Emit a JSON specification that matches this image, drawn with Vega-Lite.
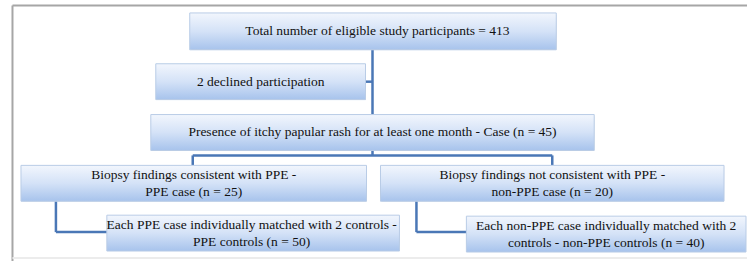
{
  "$schema": "https://vega.github.io/schema/vega-lite/v6.json",
  "width": 748,
  "height": 262,
  "padding": 0,
  "autosize": {"type": "fit", "contains": "padding"},
  "background": "white",
  "config": {"view": {"stroke": null}},
  "datasets": {
    "frame": [
      {"x1": 12.5, "y1": 5.5, "x2": 748, "y2": 5.5, "kind": "main"},
      {"x1": 12.5, "y1": 5.5, "x2": 12.5, "y2": 262, "kind": "main"},
      {"x1": 12.5, "y1": 259, "x2": 748, "y2": 259, "kind": "faint"}
    ],
    "links": [
      {"x1": 373, "y1": 50, "x2": 373, "y2": 115},
      {"x1": 366, "y1": 82, "x2": 373, "y2": 82},
      {"x1": 373, "y1": 151, "x2": 373, "y2": 156},
      {"x1": 193, "y1": 156, "x2": 553, "y2": 156},
      {"x1": 193, "y1": 156, "x2": 193, "y2": 166},
      {"x1": 553, "y1": 156, "x2": 553, "y2": 166},
      {"x1": 56, "y1": 202, "x2": 56, "y2": 233},
      {"x1": 56, "y1": 233, "x2": 107, "y2": 233},
      {"x1": 417, "y1": 202, "x2": 417, "y2": 233},
      {"x1": 417, "y1": 233, "x2": 467, "y2": 233}
    ],
    "boxes": [
      {"id": "total", "x1": 190, "x2": 557, "y1": 13, "y2": 50, "cx": 378, "cy": 31.5, "label": ["Total number of eligible study participants = 413"]},
      {"id": "declined", "x1": 156, "x2": 366, "y1": 64, "y2": 100, "cx": 261, "cy": 82, "label": ["2 declined participation"]},
      {"id": "case", "x1": 151, "x2": 595, "y1": 115, "y2": 151, "cx": 373, "cy": 133, "label": ["Presence of itchy papular rash for at least one month - Case (n = 45)"]},
      {"id": "ppe", "x1": 21, "x2": 367, "y1": 166, "y2": 202, "cx": 194, "cy": 176, "label": ["Biopsy findings consistent with PPE -", "PPE case (n = 25)"]},
      {"id": "nonppe", "x1": 381, "x2": 725, "y1": 166, "y2": 202, "cx": 553, "cy": 176, "label": ["Biopsy findings not consistent with PPE -", "non-PPE case (n = 20)"]},
      {"id": "ppectl", "x1": 107, "x2": 400, "y1": 216, "y2": 252, "cx": 252, "cy": 226, "label": ["Each PPE case individually matched with 2 controls -", "PPE controls (n = 50)"]},
      {"id": "nonppectl", "x1": 467, "x2": 747, "y1": 217, "y2": 253, "cx": 607, "cy": 227, "label": ["Each non-PPE case individually matched with 2", "controls - non-PPE controls (n = 40)"]}
    ]
  },
  "layer": [
    {
      "data": {"name": "frame"},
      "mark": {"type": "rule", "strokeWidth": 2},
      "encoding": {
        "x": {"field": "x1", "type": "quantitative", "scale": {"domain": [0, 748], "nice": false, "zero": false}, "axis": null},
        "x2": {"field": "x2"},
        "y": {"field": "y1", "type": "quantitative", "scale": {"domain": [0, 262], "nice": false, "zero": false, "reverse": true}, "axis": null},
        "y2": {"field": "y2"},
        "color": {"field": "kind", "type": "nominal", "scale": {"domain": ["main", "faint"], "range": ["#a6a6a6", "#ececec"]}, "legend": null}
      }
    },
    {
      "data": {"name": "links"},
      "mark": {"type": "rule", "strokeWidth": 2.5, "color": "#4a77b6"},
      "encoding": {
        "x": {"field": "x1", "type": "quantitative", "axis": null},
        "x2": {"field": "x2"},
        "y": {"field": "y1", "type": "quantitative", "axis": null},
        "y2": {"field": "y2"}
      }
    },
    {
      "data": {"name": "boxes"},
      "mark": {"type": "rect", "color": "#8f8f8f", "opacity": 0.55, "xOffset": 1.5, "yOffset": 2},
      "encoding": {
        "x": {"field": "x1", "type": "quantitative", "axis": null},
        "x2": {"field": "x2"},
        "y": {"field": "y1", "type": "quantitative", "axis": null},
        "y2": {"field": "y2"}
      }
    },
    {
      "data": {"name": "boxes"},
      "mark": {
        "type": "rect",
        "stroke": "#b9cce6",
        "strokeWidth": 1,
        "fill": {
          "gradient": "linear",
          "x1": 0, "y1": 0, "x2": 0, "y2": 1,
          "stops": [
            {"offset": 0, "color": "#f2f6fd"},
            {"offset": 0.5, "color": "#d4e2f7"},
            {"offset": 1, "color": "#a7c3ec"}
          ]
        }
      },
      "encoding": {
        "x": {"field": "x1", "type": "quantitative", "axis": null},
        "x2": {"field": "x2"},
        "y": {"field": "y1", "type": "quantitative", "axis": null},
        "y2": {"field": "y2"}
      }
    },
    {
      "data": {"name": "boxes"},
      "mark": {"type": "text", "font": "'Liberation Serif', 'DejaVu Serif', serif", "fontSize": 13.5, "color": "#111111", "align": "center", "baseline": "middle", "lineHeight": 16.5},
      "encoding": {
        "x": {"field": "cx", "type": "quantitative", "axis": null},
        "y": {"field": "cy", "type": "quantitative", "axis": null},
        "text": {"field": "label"}
      }
    }
  ]
}
